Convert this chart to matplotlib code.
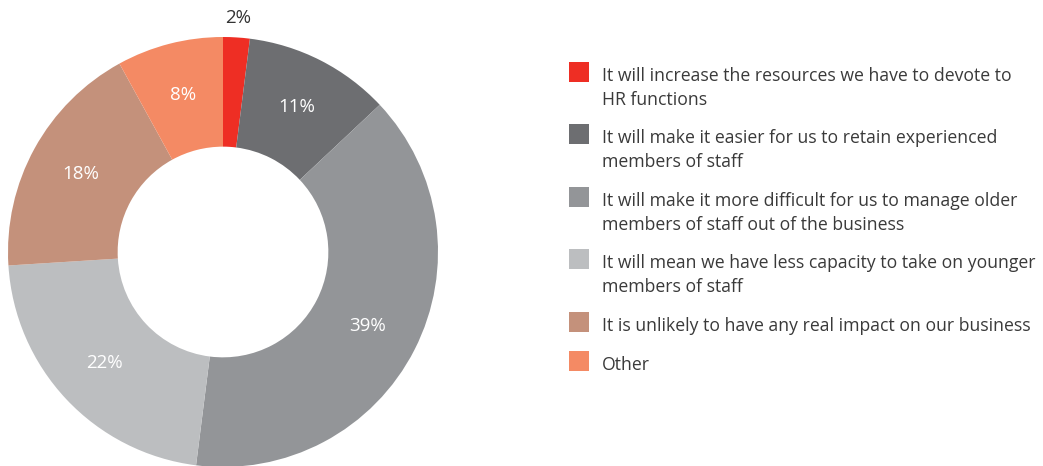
import matplotlib
matplotlib.use("Agg")
import matplotlib.pyplot as plt
from matplotlib.patches import Rectangle
import numpy as np

plt.rcParams['font.family'] = ['Open Sans', 'DejaVu Sans']

categories = [
    "It will increase the resources we have to devote to\nHR functions",
    "It will make it easier for us to retain experienced\nmembers of staff",
    "It will make it more difficult for us to manage older\nmembers of staff out of the business",
    "It will mean we have less capacity to take on younger\nmembers of staff",
    "It is unlikely to have any real impact on our business",
    "Other",
]
values = [2, 11, 39, 22, 18, 8]
colors = ["#ee2e24", "#6d6e71", "#939598", "#bcbec0", "#c4917b", "#f48a64"]

W, H = 1043, 466
fig = plt.figure(figsize=(W / 100, H / 100), dpi=100)

# donut axes placed in pixel units
cx, cy, R = 223, 252, 215
ax = fig.add_axes([(cx - R) / W, (H - cy - R) / H, 2 * R / W, 2 * R / H])
wedges, _ = ax.pie(values, colors=colors, startangle=90, counterclock=False,
                   radius=1.0, wedgeprops=dict(width=0.51, linewidth=0))
ax.set_xlim(-1, 1)
ax.set_ylim(-1, 1)
ax.set_aspect('equal')
ax.axis('off')

for w, v in zip(wedges, values):
    ang = np.deg2rad((w.theta1 + w.theta2) / 2)
    if v < 5:
        r, col = 1.09, "#333333"
    else:
        r, col = 0.755, "white"
    ax.text(r * np.cos(ang), r * np.sin(ang), f"{v}%", ha='center', va='center',
            fontsize=13.5, color=col, fontweight='medium')

# legend
tops = [62, 124, 187, 249, 312, 351]
for top, lab, c in zip(tops, categories, colors):
    fig.patches.append(Rectangle((569 / W, (H - top - 20) / H), 20 / W, 20 / H,
                                 transform=fig.transFigure, color=c, linewidth=0))
    fig.text(602 / W, (H - top - 5) / H, lab, ha='left', va='top',
             fontsize=12.7, color="#3a3a3a", linespacing=1.42)

fig.savefig("out.png", dpi=100)
